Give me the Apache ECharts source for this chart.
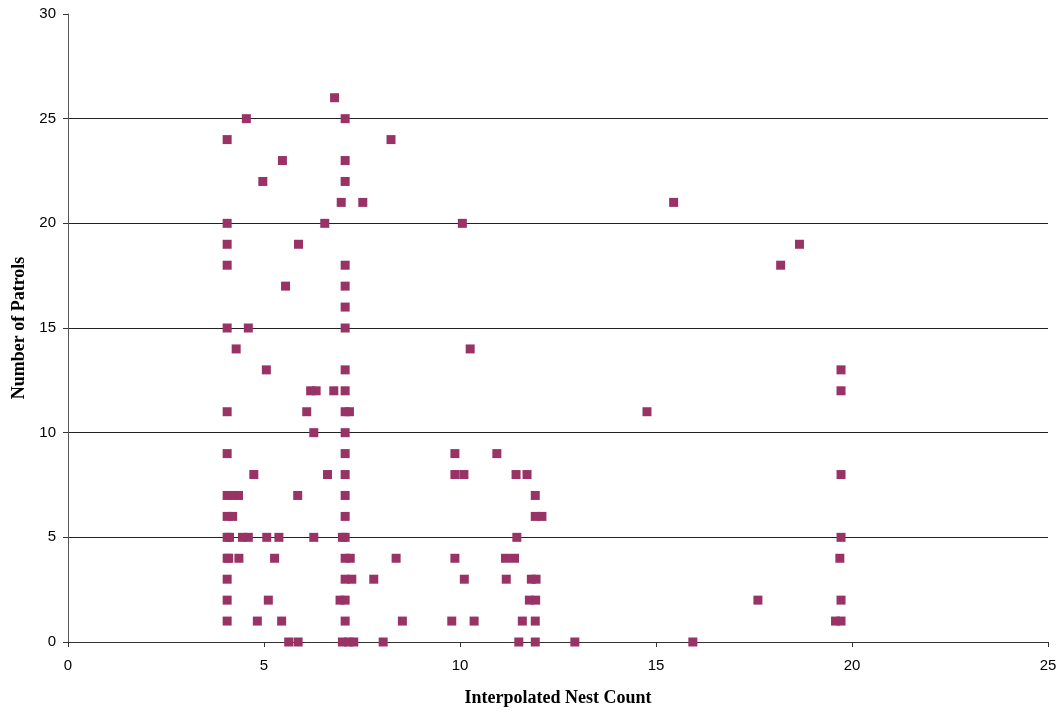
<!DOCTYPE html>
<html>
<head>
<meta charset="utf-8">
<script src="https://cdn.jsdelivr.net/npm/echarts@6/dist/echarts.min.js"></script>
<style>
html,body{margin:0;padding:0;background:#fff;}
#chart{width:1062px;height:712px;}
</style>
</head>
<body>
<div id="chart"></div>
<script>
// Interpolated nest count (x) and number of patrols (y)
const nestCount = [
  6.80,
  4.55, 7.07,
  4.06, 8.24,
  5.47, 7.07,
  4.97, 7.07,
  6.97, 7.52, 15.45,
  4.06, 6.55, 10.06,
  4.06, 5.88, 18.66,
  4.06, 7.07, 18.18,
  5.55, 7.07,
  7.07,
  4.06, 4.60, 7.07,
  4.29, 10.26,
  5.06, 7.07, 19.72,
  6.19, 6.33, 6.78, 7.07, 19.72,
  4.06, 6.09, 7.07, 7.18, 14.77,
  6.27, 7.07,
  4.06, 7.07, 9.87, 10.94,
  4.74, 6.62, 7.07, 9.87, 10.10, 11.43, 11.71, 19.72,
  4.06, 4.20, 4.35, 5.86, 7.07, 11.92,
  4.06, 4.20, 7.07, 11.92, 12.09,
  4.06, 4.12, 4.45, 4.60, 5.07, 5.38, 6.27, 7.00, 7.07, 11.45, 19.72,
  4.06, 4.10, 4.36, 5.27, 7.07, 7.20, 8.37, 9.87, 11.16, 11.39, 19.69,
  4.06, 7.07, 7.24, 7.80, 10.11, 11.18, 11.82, 11.94,
  4.06, 5.11, 6.94, 7.07, 11.77, 11.93, 17.60, 19.72,
  4.06, 4.83, 5.45, 7.07, 8.53, 9.79, 10.36, 11.59, 11.92, 19.58, 19.72,
  5.63, 5.87, 7.00, 7.16, 7.29, 8.04, 11.50, 11.92, 12.93, 15.94
];
const patrols = [
  26,
  25, 25,
  24, 24,
  23, 23,
  22, 22,
  21, 21, 21,
  20, 20, 20,
  19, 19, 19,
  18, 18, 18,
  17, 17,
  16,
  15, 15, 15,
  14, 14,
  13, 13, 13,
  12, 12, 12, 12, 12,
  11, 11, 11, 11, 11,
  10, 10,
  9, 9, 9, 9,
  8, 8, 8, 8, 8, 8, 8, 8,
  7, 7, 7, 7, 7, 7,
  6, 6, 6, 6, 6,
  5, 5, 5, 5, 5, 5, 5, 5, 5, 5, 5,
  4, 4, 4, 4, 4, 4, 4, 4, 4, 4, 4,
  3, 3, 3, 3, 3, 3, 3, 3,
  2, 2, 2, 2, 2, 2, 2, 2,
  1, 1, 1, 1, 1, 1, 1, 1, 1, 1, 1,
  0, 0, 0, 0, 0, 0, 0, 0, 0, 0
];
const xTitle = 'Interpolated Nest Count';
const yTitle = 'Number of Patrols';

const points = nestCount.map((x, i) => [x, patrols[i]]);

const chart = echarts.init(document.getElementById('chart'));
chart.setOption({
  animation: false,
  backgroundColor: '#ffffff',
  grid: { left: 68, top: 14, width: 980, height: 630, containLabel: false },
  xAxis: {
    type: 'value', min: 0, max: 25, interval: 5,
    name: xTitle, nameLocation: 'middle', nameGap: 47,
    nameTextStyle: { fontFamily: 'Liberation Serif', fontWeight: 'bold', fontSize: 18, color: '#000' },
    axisLine: { show: true, onZero: false, lineStyle: { color: '#333', width: 1 } },
    axisTick: { show: true, inside: false, length: 5, lineStyle: { color: '#333' } },
    axisLabel: { fontFamily: 'Liberation Sans', fontSize: 15, color: '#000', margin: 16 },
    splitLine: { show: false }
  },
  yAxis: {
    type: 'value', min: 0, max: 30, interval: 5,
    name: yTitle, nameLocation: 'middle', nameGap: 39, nameRotate: 90,
    nameTextStyle: { fontFamily: 'Liberation Serif', fontWeight: 'bold', fontSize: 18, color: '#000' },
    axisLine: { show: true, lineStyle: { color: '#555', width: 1 } },
    axisTick: { show: true, inside: false, length: 5, lineStyle: { color: '#333' } },
    axisLabel: { fontFamily: 'Liberation Sans', fontSize: 15, color: '#000', margin: 12 },
    splitLine: { show: true, showMinLine: false, showMaxLine: false, lineStyle: { color: '#222', width: 1 } }
  },
  series: [{
    type: 'scatter',
    data: points,
    symbol: 'rect',
    symbolSize: 9,
    itemStyle: { color: '#993366', opacity: 1 }
  }]
});
</script>
</body>
</html>
